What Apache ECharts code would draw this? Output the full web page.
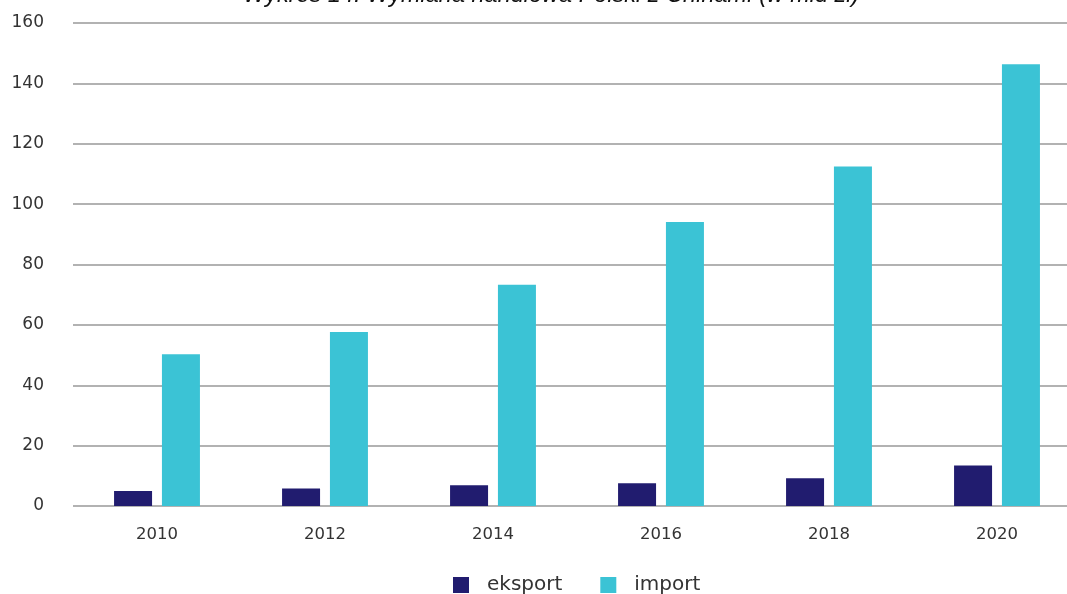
<!DOCTYPE html>
<html><head><meta charset="utf-8">
<script src="https://cdn.jsdelivr.net/npm/echarts@6/dist/echarts.min.js"></script>
<style>html,body{margin:0;padding:0;background:#fff}#c{width:1067px;height:594px}</style>
</head><body><div id="c"></div>
<script>
const years = ['2010','2012','2014','2016','2018','2020'];
const eksport = [5.0, 5.8, 6.9, 7.5, 9.2, 13.4];
const importVals = [50.3, 57.6, 73.3, 94.1, 112.5, 146.3];
const yTicks = [0, 20, 40, 60, 80, 100, 120, 140, 160];

const chart = echarts.init(document.getElementById('c'), null, {renderer:'canvas'});
const font = '"DejaVu Sans", sans-serif';
chart.setOption({
  animation: false,
  title: {
    text: 'Wykres 14. Wymiana handlowa Polski z Chinami (w mld zł)',
    left: 238, top: -21,
    textStyle: {fontFamily: '"Liberation Sans", Arial, sans-serif', fontStyle: 'italic', fontWeight: 'normal', fontSize: 23.5, color: '#111'}
  },
  legend: {
    bottom: -6, left: 448,
    itemWidth: 16, itemHeight: 16, itemGap: 38,
    icon: 'rect',
    textStyle: {fontFamily: font, fontSize: 20, color: '#333', padding: [0,0,0,13]},
    data: ['eksport', 'import']
  },
  grid: {left: 73, width: 1008, top: 23, height: 483, outerBoundsMode: 'none', containLabel: false},
  xAxis: {
    type: 'category', data: years,
    axisLine: {show: false}, axisTick: {show: false},
    axisLabel: {fontFamily: font, fontSize: 16.5, color: '#333', margin: 20}
  },
  yAxis: {
    type: 'value', min: yTicks[0], max: yTicks[yTicks.length-1], interval: 20,
    axisLine: {show: false}, axisTick: {show: false},
    axisLabel: {fontFamily: font, fontSize: 17, color: '#333', margin: 29, align: 'right'},
    splitLine: {lineStyle: {color: '#999', width: 1.5}}
  },
  series: [
    {name: 'eksport', type: 'bar', data: eksport, barWidth: 38, barGap: '26%',
     itemStyle: {color: '#211C6F'}},
    {name: 'import', type: 'bar', data: importVals, barWidth: 38,
     itemStyle: {color: '#3BC3D5'}}
  ]
});
</script></body></html>
